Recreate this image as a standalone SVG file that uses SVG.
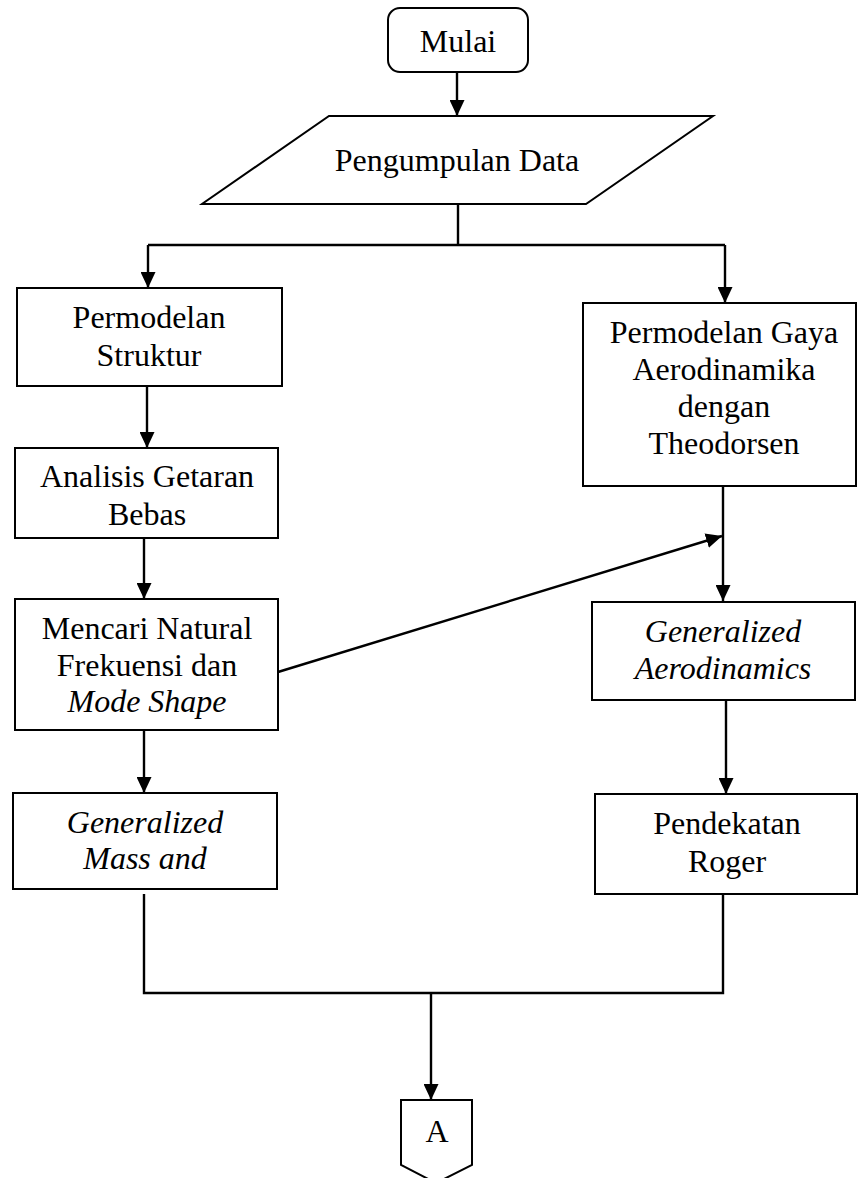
<svg xmlns="http://www.w3.org/2000/svg" width="858" height="1178" viewBox="0 0 858 1178">
<defs>
<style>
.n{fill:#fff;stroke:#000;stroke-width:2}
.t{font-family:"Liberation Serif","Times New Roman",serif;font-size:32px;fill:#000;text-anchor:middle}
.i{font-style:italic}
.c{fill:none;stroke:#000;stroke-width:2.4}
</style>
<marker id="ah" viewBox="0 0 10 10" refX="10" refY="5" markerWidth="16" markerHeight="15" markerUnits="userSpaceOnUse" orient="auto" preserveAspectRatio="none">
<path d="M0,0 L10,5 L0,10 z" fill="#000"/>
</marker>
</defs>
<rect width="858" height="1178" fill="#fff"/>
<g id="connectors">
<line class="c" x1="457" y1="72" x2="457" y2="116" marker-end="url(#ah)"/>
<polyline class="c" points="458,204 458,245"/>
<polyline class="c" points="148,245 725,245"/>
<line class="c" x1="148" y1="245" x2="148" y2="288" marker-end="url(#ah)"/>
<line class="c" x1="725" y1="245" x2="725" y2="303" marker-end="url(#ah)"/>
<line class="c" x1="147" y1="386" x2="147" y2="448" marker-end="url(#ah)"/>
<line class="c" x1="144" y1="538" x2="144" y2="599" marker-end="url(#ah)"/>
<line class="c" x1="144" y1="730" x2="144" y2="793" marker-end="url(#ah)"/>
<line class="c" x1="723" y1="486" x2="723" y2="601" marker-end="url(#ah)"/>
<line class="c" x1="278" y1="672" x2="722" y2="536" marker-end="url(#ah)"/>
<line class="c" x1="726" y1="700" x2="726" y2="794" marker-end="url(#ah)"/>
<polyline class="c" points="144,894 144,993 723,993 723,894"/>
<line class="c" x1="431" y1="993" x2="431" y2="1100" marker-end="url(#ah)"/>
</g>
<g id="mulai">
<rect class="n" x="388" y="8" width="140" height="64" rx="12"/>
<text class="t" x="458" y="52">Mulai</text>
</g>
<g id="pengumpulan">
<polygon class="n" points="329,116 713,116 586,204 202,204"/>
<text class="t" x="457" y="171">Pengumpulan Data</text>
</g>
<g id="permodelan-struktur">
<rect class="n" x="17" y="288" width="265" height="98"/>
<text class="t" x="149" y="328">Permodelan</text>
<text class="t" x="149" y="366">Struktur</text>
</g>
<g id="analisis">
<rect class="n" x="15" y="448" width="263" height="90"/>
<text class="t" x="147" y="487">Analisis Getaran</text>
<text class="t" x="147" y="525">Bebas</text>
</g>
<g id="mencari">
<rect class="n" x="15" y="599" width="263" height="131"/>
<text class="t" x="147" y="639">Mencari Natural</text>
<text class="t" x="147" y="676">Frekuensi dan</text>
<text class="t i" x="147" y="712">Mode Shape</text>
</g>
<g id="gen-mass">
<rect class="n" x="13" y="793" width="264" height="96"/>
<text class="t i" x="145" y="833">Generalized</text>
<text class="t i" x="145" y="869">Mass and</text>
</g>
<g id="permodelan-gaya">
<rect class="n" x="583" y="303" width="273" height="183"/>
<text class="t" x="724" y="343">Permodelan Gaya</text>
<text class="t" x="724" y="380">Aerodinamika</text>
<text class="t" x="724" y="417">dengan</text>
<text class="t" x="724" y="454">Theodorsen</text>
</g>
<g id="gen-aero">
<rect class="n" x="592" y="602" width="263" height="98"/>
<text class="t i" x="723" y="642">Generalized</text>
<text class="t i" x="723" y="679">Aerodinamics</text>
</g>
<g id="roger">
<rect class="n" x="595" y="794" width="262" height="100"/>
<text class="t" x="727" y="834">Pendekatan</text>
<text class="t" x="727" y="872">Roger</text>
</g>
<g id="connector-a">
<polygon class="n" points="401,1100 472,1100 472,1165 436,1183 401,1165"/>
<text class="t" x="437" y="1142">A</text>
</g>
</svg>
